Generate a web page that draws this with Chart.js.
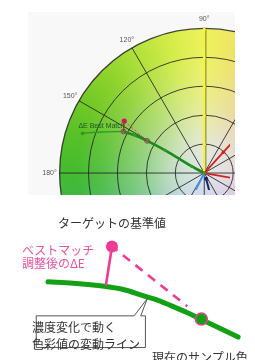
<!DOCTYPE html>
<html><head><meta charset="utf-8">
<script src="https://cdn.jsdelivr.net/npm/chart.js@4.4.1/dist/chart.umd.min.js"></script>
<style>
html,body{margin:0;padding:0;background:#fff;}
body{width:255px;height:360px;overflow:hidden;position:relative;font-family:"Noto Sans CJK JP","Noto Sans",sans-serif;}
#top{position:absolute;left:28px;top:12px;}
#bot{position:absolute;left:0;top:200px;}
.t{position:absolute;white-space:nowrap;line-height:12px;height:12px;}
.deg{font-family:"Liberation Sans",Arial,sans-serif;font-size:7px;line-height:8px;height:8px;color:#555;transform:translate(-50%,-50%);}
.de{font-family:"Liberation Sans",Arial,sans-serif;font-size:7px;line-height:8px;height:8px;color:#1f5a1f;transform:translate(0,-50%);}
.jp{font-size:12px;transform:translate(0,-50%);}
.dark{color:#333;}
.pink{color:#e8529e;}
</style></head><body>
<canvas id="top" width="207" height="183"></canvas>
<canvas id="bot" width="255" height="160"></canvas>
<div class="t jp dark" style="left:58px;top:223px;">ターゲットの基準値</div>
<div class="t jp pink" style="left:22px;top:250px;">ベストマッチ</div>
<div class="t jp pink" style="left:22px;top:263px;">調整後のΔE</div>
<div class="t jp dark" style="left:32px;top:327px;z-index:2;">濃度変化で動く</div>
<div class="t jp dark" style="left:32px;top:344px;z-index:2;">色彩値の変動ライン</div>
<div class="t jp dark" style="left:152px;top:357px;">現在のサンプル色</div>
<script>
// ---------- top (a*, b*) polar panel data ----------
const RING_VALUES = [20, 40, 60, 80, 100];
const SPOKE_ANGLES = [0, 30, 60, 90, 120, 150, 180, 210, 240, 270, 300, 330];
const DEG_LABELS = ['90°', '120°', '150°', '180°'];
const DEG_ANGLES = [90, 120, 150, 180];
const DEG_LABEL_R = 107;
// green colour path (a*, b*)
const PATH_A = [-84.2, -71.1, -55.9, -48, -39.5, -27, -8.6, 0];
const PATH_B = [27.6, 28.6, 28.9, 26.3, 22.4, 15.8, 4.6, 0];
const BEST_INDEX = 2;
const TARGET_AB = [-55.3, 36.2];
const SAMPLE_AB = [-39.5, 22.4];
const RED1_A = [0, 13.2, 30], RED1_B = [0, 14.5, 33];
const RED2_A = [0, 30], RED2_B = [0, -5.4];
const BLUE_A = [0, -6.5], BLUE_B = [0, -13];
const NAVY_A = [1.3, 3.5], NAVY_B = [-3.9, -12.5];
const YELLOW_A = [0, 0], YELLOW_B = [0, 100];
const DE_LABEL = 'ΔE Best Match';
const DE_LABEL_AB = [-87, 33];

// ---------- bottom schematic data ----------
const CURVE_X = [43, 70, 103, 125, 143, 160, 173, 190, 205, 225, 245];
const CURVE_Y = [282, 283.5, 287, 291, 297, 302.5, 308, 315.5, 323, 333, 343];
const TARGET_PT = [111, 243];
const BEST_PT = [104.5, 286];
const SAMPLE_PT = [206, 323];
const DASH_END = [191, 309];

const HUE_ANGLES = [0, 30, 60, 80, 90, 105, 120, 135, 150, 165, 180, 200, 225, 250, 270, 300, 330, 360];
const HUE_COLORS = ['#f3a3a0', '#f2b878', '#f0d070', '#efe862', '#eef25c', '#d4ec48', '#b0e03a', '#8ed22c',
  '#70c826', '#56c028', '#44bb30', '#3cb450', '#4aa0a8', '#5a88d0', '#6078d8', '#9070c8', '#d080b0', '#f3a3a0'];

const zip = (xs, ys) => xs.map((v, i) => ({x: v, y: ys[i]}));
const rad = d => d * Math.PI / 180;

const bgPlugin = {
  id: 'bg',
  beforeDatasetsDraw(chart) {
    const {ctx, scales: {x, y}} = chart;
    const cx = x.getPixelForValue(0), cy = y.getPixelForValue(0);
    const unit = x.getPixelForValue(1) - cx;
    const R = RING_VALUES[RING_VALUES.length - 1] * unit;
    ctx.save();
    ctx.fillStyle = '#f8f8f8';
    ctx.fillRect(0, 0, chart.width, chart.height);
    ctx.beginPath(); ctx.arc(cx, cy, R, 0, Math.PI * 2); ctx.clip();
    if (ctx.createConicGradient) {
      const g = ctx.createConicGradient(0, cx, cy);
      const stops = HUE_ANGLES.map((a, i) => [(360 - a) / 360, HUE_COLORS[i]]).sort((p, q) => p[0] - q[0]);
      stops.forEach(s => g.addColorStop(s[0], s[1]));
      ctx.fillStyle = g;
      ctx.fillRect(0, 0, chart.width, chart.height);
    } else {
      for (let i = 0; i < HUE_ANGLES.length - 1; i++) {
        ctx.beginPath(); ctx.moveTo(cx, cy);
        ctx.arc(cx, cy, R, -rad(HUE_ANGLES[i + 1]), -rad(HUE_ANGLES[i]));
        ctx.fillStyle = HUE_COLORS[i]; ctx.fill();
      }
    }
    const rg = ctx.createRadialGradient(cx, cy, 0, cx, cy, R);
    rg.addColorStop(0, 'rgba(226,231,236,1)');
    rg.addColorStop(0.22, 'rgba(226,231,236,0.8)');
    rg.addColorStop(0.45, 'rgba(226,231,236,0.42)');
    rg.addColorStop(0.7, 'rgba(226,231,236,0.12)');
    rg.addColorStop(0.88, 'rgba(226,231,236,0)');
    ctx.fillStyle = rg;
    ctx.fillRect(0, 0, chart.width, chart.height);
    ctx.restore();
    ctx.save();
    ctx.strokeStyle = 'rgba(35,35,35,0.85)';
    RING_VALUES.forEach((v, i) => {
      ctx.lineWidth = i === RING_VALUES.length - 1 ? 1.3 : 1;
      ctx.beginPath(); ctx.arc(cx, cy, v * unit, 0, Math.PI * 2); ctx.stroke();
    });
    ctx.lineWidth = 1;
    SPOKE_ANGLES.forEach(a => {
      const off = a === 90 ? 1.5 : 0;
      ctx.beginPath();
      ctx.moveTo(cx + off, cy);
      ctx.lineTo(cx + off + Math.cos(rad(a)) * R, cy - Math.sin(rad(a)) * R);
      ctx.stroke();
    });
    ctx.restore();
  }
};

const topChart = new Chart(document.getElementById('top'), {
  type: 'scatter',
  data: {
    datasets: [
      {data: [{x: TARGET_AB[0], y: TARGET_AB[1]}], pointRadius: 2.6, pointBackgroundColor: '#d4145e', pointBorderWidth: 0, order: 0},
      {data: [{x: PATH_A[BEST_INDEX], y: PATH_B[BEST_INDEX]}, {x: SAMPLE_AB[0], y: SAMPLE_AB[1]}], pointRadius: 2.4, pointBackgroundColor: 'rgba(0,0,0,0)', pointBorderColor: '#a8385a', pointBorderWidth: 1, order: 1},
      {data: [{x: TARGET_AB[0], y: TARGET_AB[1]}, {x: PATH_A[BEST_INDEX], y: PATH_B[BEST_INDEX]}], showLine: true, borderColor: '#d4145e', borderWidth: 1.3, pointRadius: 0, order: 2},
      {data: [{x: TARGET_AB[0], y: TARGET_AB[1]}, {x: SAMPLE_AB[0], y: SAMPLE_AB[1]}], showLine: true, borderColor: '#d04a78', borderWidth: 1, borderDash: [2.5, 2], pointRadius: 0, order: 3},
      {data: zip(PATH_A.slice(BEST_INDEX), PATH_B.slice(BEST_INDEX)), showLine: true, tension: 0.3, borderColor: '#1d8a1d', borderWidth: 2.6, pointRadius: 1.6, pointBackgroundColor: '#2aa02a', pointBorderWidth: 0, order: 4},
      {data: zip(PATH_A.slice(0, BEST_INDEX + 1), PATH_B.slice(0, BEST_INDEX + 1)), showLine: true, tension: 0.3, borderColor: '#2a9a2a', borderWidth: 1.4, pointRadius: [1.8, 0, 0], pointBackgroundColor: '#2a9a2a', pointBorderWidth: 0, order: 5},
      {data: zip(RED1_A, RED1_B), showLine: true, borderColor: '#d42020', borderWidth: 1.8, pointRadius: [0, 1.8, 0], pointBackgroundColor: '#d42020', pointBorderWidth: 0, order: 6},
      {data: zip(RED2_A, RED2_B), showLine: true, borderColor: '#d42020', borderWidth: 1.8, pointRadius: 0, order: 7},
      {data: zip(BLUE_A, BLUE_B), showLine: true, borderColor: '#4a94e6', borderWidth: 2, pointRadius: 0, order: 8},
      {data: zip(NAVY_A, NAVY_B), showLine: true, borderColor: '#1c2266', borderWidth: 2, pointRadius: [2, 0], pointBackgroundColor: '#1c2266', pointBorderWidth: 0, order: 9},
      {data: zip(YELLOW_A, YELLOW_B), showLine: true, borderColor: '#f4f43a', borderWidth: 2.4, pointRadius: 0, order: 10},
      {data: RING_VALUES.map(v => ({x: 0, y: v})), pointRadius: 1.6, pointBackgroundColor: '#f0f030', pointBorderWidth: 0, order: 11}
    ]
  },
  options: {
    responsive: false, animation: false, events: [],
    layout: {padding: 0},
    scales: {
      x: {type: 'linear', min: -118.4, max: 17.8, display: false},
      y: {type: 'linear', min: -11.8, max: 108.6, display: false}
    },
    plugins: {legend: {display: false}, tooltip: {enabled: false}}
  },
  plugins: [bgPlugin]
});

// degree labels and ΔE label placed through the chart's scales
(function () {
  const c = document.getElementById('top');
  const ox = c.offsetLeft, oy = c.offsetTop;
  const xs = topChart.scales.x, ys = topChart.scales.y;
  DEG_LABELS.forEach((txt, i) => {
    const a = rad(DEG_ANGLES[i]);
    const d = document.createElement('div');
    d.className = 't deg';
    d.textContent = txt;
    d.style.left = (ox + xs.getPixelForValue(Math.cos(a) * DEG_LABEL_R)) + 'px';
    d.style.top = (oy + ys.getPixelForValue(Math.sin(a) * DEG_LABEL_R)) + 'px';
    document.body.appendChild(d);
  });
  const d = document.createElement('div');
  d.className = 't de';
  d.textContent = DE_LABEL;
  d.style.left = (ox + xs.getPixelForValue(DE_LABEL_AB[0])) + 'px';
  d.style.top = (oy + ys.getPixelForValue(DE_LABEL_AB[1])) + 'px';
  document.body.appendChild(d);
})();

// ---------- bottom schematic ----------
const calloutPlugin = {
  id: 'callout',
  afterDatasetsDraw(chart) {
    const {ctx, scales: {x, y}} = chart;
    const P = (a, b) => [x.getPixelForValue(a), y.getPixelForValue(b)];
    const pts = [P(30, 319), P(134, 319), P(148, 300), P(141, 319), P(146, 319), P(146, 354), P(30, 354)];
    ctx.save();
    ctx.beginPath();
    pts.forEach((p, i) => i ? ctx.lineTo(p[0] + 0.5, p[1] + 0.5) : ctx.moveTo(p[0] + 0.5, p[1] + 0.5));
    ctx.closePath();
    ctx.fillStyle = '#fff'; ctx.fill();
    ctx.strokeStyle = '#555'; ctx.lineWidth = 1; ctx.stroke();
    ctx.restore();
  }
};

new Chart(document.getElementById('bot'), {
  type: 'scatter',
  data: {
    datasets: [
      {data: [{x: SAMPLE_PT[0], y: SAMPLE_PT[1]}], pointRadius: 6, pointBackgroundColor: '#14a014', pointBorderColor: '#e8409a', pointBorderWidth: 1.5, order: 0},
      {data: [{x: TARGET_PT[0], y: TARGET_PT[1]}], pointRadius: 6, pointBackgroundColor: '#ee3c96', pointBorderWidth: 0, order: 1},
      {data: [{x: TARGET_PT[0], y: TARGET_PT[1]}, {x: BEST_PT[0], y: BEST_PT[1]}], showLine: true, borderColor: '#ee3c96', borderWidth: 2.6, pointRadius: 0, order: 2},
      {data: zip(CURVE_X, CURVE_Y), showLine: true, cubicInterpolationMode: 'monotone', borderColor: '#14a014', borderWidth: 5, borderCapStyle: 'round', pointRadius: 0, order: 3},
      {data: [{x: TARGET_PT[0], y: TARGET_PT[1]}, {x: DASH_END[0], y: DASH_END[1]}], showLine: true, borderColor: '#ee3c96', borderWidth: 2.6, borderDash: [9, 7], borderDashOffset: 2, pointRadius: 0, order: 4}
    ]
  },
  options: {
    responsive: false, animation: false, events: [],
    layout: {padding: 0},
    scales: {
      x: {type: 'linear', min: 0, max: 255, display: false},
      y: {type: 'linear', min: 200, max: 360, reverse: true, display: false}
    },
    plugins: {legend: {display: false}, tooltip: {enabled: false}}
  },
  plugins: [calloutPlugin]
});
</script>
</body></html>
